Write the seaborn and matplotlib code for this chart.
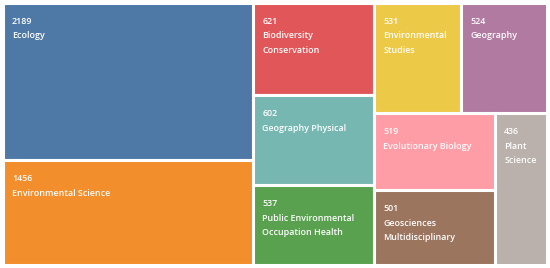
import matplotlib
matplotlib.use("Agg")
import matplotlib.pyplot as plt
import seaborn as sns

# ---- data ----
categories = ["Ecology", "Environmental Science", "Biodiversity Conservation",
              "Geography Physical", "Public Environmental Occupation Health",
              "Environmental Studies", "Geography", "Evolutionary Biology",
              "Geosciences Multidisciplinary", "Plant Science"]
counts = [2189, 1456, 621, 602, 537, 531, 524, 519, 501, 436]
tile_colors = ["#4E79A7", "#F28E2B", "#E15759", "#76B7B2", "#59A14F",
               "#EDC948", "#B07AA1", "#FF9DA7", "#9C755F", "#BAB0AC"]

# nesting of the treemap: "h" = side by side, "v" = stacked top to bottom
tree = ("h", [("v", [0, 1]),
              ("v", [2, 3, 4]),
              ("v", [("h", [5, 6]), ("h", [("v", [7, 8]), 9])])])

sns.set_theme(style="white")
plt.rcParams["font.family"] = ["Open Sans", "DejaVu Sans"]

W, H = 550, 268
fig = plt.figure(figsize=(W / 100, H / 100), dpi=100)
fig.patch.set_facecolor("white")
ax_rect = [3 / W, 3 / H, 544 / W, 262 / H]
ax = fig.add_axes(ax_rect)
ax.set_xlim(0, 1)
ax.set_ylim(0, 1)
ax.axis("off")


def total(node):
    if isinstance(node, int):
        return counts[node]
    return sum(total(c) for c in node[1])


rects = {}


def place(node, x0, y0, w, h):
    if isinstance(node, int):
        rects[node] = (x0, y0, w, h)
        return
    kind, children = node
    s = total(node)
    if kind == "h":
        x = x0
        for c in children:
            cw = w * total(c) / s
            place(c, x, y0, cw, h)
            x += cw
    else:
        top = y0 + h
        for c in children:
            ch = h * total(c) / s
            place(c, x0, top - ch, w, ch)
            top -= ch


place(tree, 0.0, 0.0, 1.0, 1.0)

order = list(range(len(categories)))
xs = [rects[i][0] for i in order]
ys = [rects[i][1] for i in order]
ws = [rects[i][2] for i in order]
hs = [rects[i][3] for i in order]

bars = ax.bar(xs, hs, width=ws, bottom=ys, align="edge",
              color=[tile_colors[i] for i in order],
              edgecolor="white", linewidth=2.2)

renderer = fig.canvas.get_renderer()
fs = 6.4
fw = "semibold"
ax_w_px = ax_rect[2] * W


def text_width(s):
    t = ax.text(0, 0, s, fontsize=fs, fontweight=fw)
    bb = t.get_window_extent(renderer)
    t.remove()
    return bb.width


def wrap(label, avail):
    words = label.split()
    lines, cur = [], ""
    for wd in words:
        cand = wd if not cur else cur + " " + wd
        if cur and text_width(cand) > avail:
            lines.append(cur)
            cur = wd
        else:
            cur = cand
    if cur:
        lines.append(cur)
    return lines


pad_px = 9
first_px = 21
line_px = 14.5
px2pt = 72 / 100

for i, patch in zip(order, bars.patches):
    x0, y0, w, h = rects[i]
    avail = w * ax_w_px - 2 * pad_px
    lines = [str(counts[i])] + wrap(categories[i], avail)
    for k, line in enumerate(lines):
        t = ax.annotate(line, xy=(x0, y0 + h), xycoords="data",
                        xytext=(pad_px * px2pt, -(first_px + k * line_px) * px2pt),
                        textcoords="offset points", ha="left", va="baseline",
                        fontsize=fs, fontweight=fw, color="white")
        t.set_clip_path(patch)

fig.savefig("out.png", dpi=100, facecolor="white")
